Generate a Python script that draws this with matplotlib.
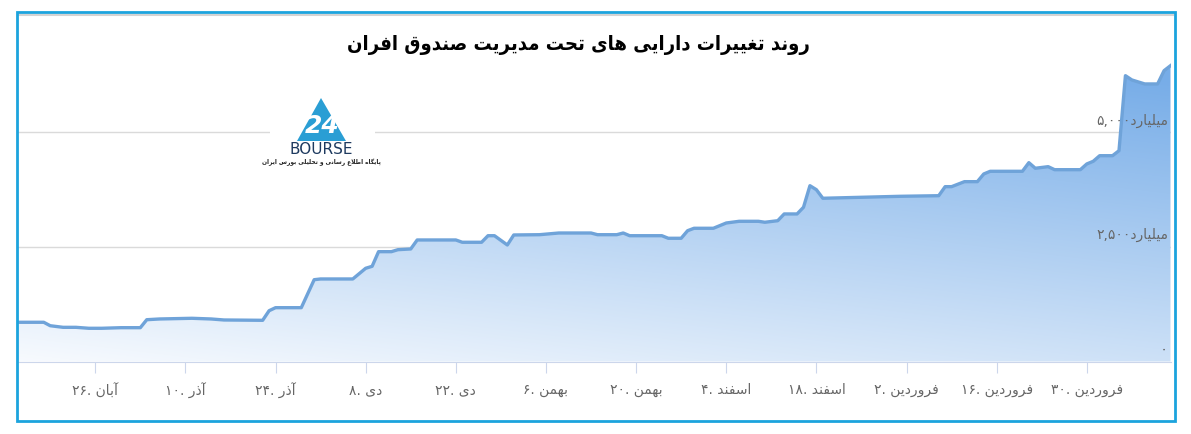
import numpy as np
import matplotlib
matplotlib.use('agg')
import matplotlib.pyplot as plt
from matplotlib.patches import Rectangle, Polygon
from matplotlib.lines import Line2D

W, H = 1191, 435

# ---- data (days counted from 26 Aban, values in billion rials) ----
days = [-12, -8, -7, -5, -3, -1, 1, 4, 7, 8, 10, 15, 18, 20, 26, 27, 28, 32,
        34, 35, 40, 42, 43, 44, 46, 47, 49, 50, 56, 57, 60, 61, 62, 64, 65,
        69, 72, 77, 78, 81, 82, 83, 88, 89, 91, 92, 93, 96, 98, 100, 103,
        104, 106, 107, 109, 110, 111, 112, 113, 125, 131, 132, 133, 135, 137,
        138, 139, 144, 145, 146, 148, 149, 153, 154, 155, 156, 158, 159, 160,
        161, 163, 165, 166, 167]
assets = [855, 855, 780, 745, 745, 724, 724, 737, 737, 911, 927, 942, 927,
          905, 898, 1107, 1173, 1173, 1783, 1799, 1799, 2032, 2075, 2394,
          2394, 2437, 2453, 2649, 2649, 2599, 2599, 2742, 2742, 2540, 2758,
          2764, 2801, 2801, 2764, 2764, 2801, 2742, 2742, 2686, 2686, 2851,
          2904, 2904, 3019, 3056, 3056, 3035, 3069, 3216, 3216, 3362, 3832,
          3745, 3558, 3601, 3614, 3811, 3811, 3920, 3920, 4088, 4146, 4146,
          4334, 4212, 4247, 4181, 4181, 4306, 4364, 4486, 4486, 4595, 6230,
          6137, 6050, 6050, 6339, 6448]

tick_days = [0, 14, 28, 42, 56, 70, 84, 98, 112, 126, 140, 154]
tick_months = ['آبان', 'آذر', 'آذر', 'دی', 'دی', 'بهمن', 'بهمن', 'اسفند',
               'اسفند', 'فروردین', 'فروردین', 'فروردین']
tick_dates = ['26', '10', '24', '8', '22', '6', '20', '4', '18', '2', '16', '30']
y_grid = [0, 2500, 5000]
y_labels = ['0', '2,500', '5,000']
title = 'روند تغییرات دارایی های تحت مدیریت صندوق افران'
unit = 'میلیارد'
logo_caption = 'پایگاه اطلاع رسانی و تحلیلی بورس ایران'

# ---- tiny arabic/persian shaper (matplotlib has no text shaping) ----
FORMS = {
    '\u0627': ('\uFE8D', '\uFE8E', None, None),
    '\u0622': ('\uFE81', '\uFE82', None, None),
    '\u0628': ('\uFE8F', '\uFE90', '\uFE91', '\uFE92'),
    '\u067E': ('\uFB56', '\uFB57', '\uFB58', '\uFB59'),
    '\u062A': ('\uFE95', '\uFE96', '\uFE97', '\uFE98'),
    '\u062D': ('\uFEA1', '\uFEA2', '\uFEA3', '\uFEA4'),
    '\u062F': ('\uFEA9', '\uFEAA', None, None),
    '\u0630': ('\uFEAB', '\uFEAC', None, None),
    '\u0631': ('\uFEAD', '\uFEAE', None, None),
    '\u0632': ('\uFEAF', '\uFEB0', None, None),
    '\u0633': ('\uFEB1', '\uFEB2', '\uFEB3', '\uFEB4'),
    '\u0635': ('\uFEB9', '\uFEBA', '\uFEBB', '\uFEBC'),
    '\u0637': ('\uFEC1', '\uFEC2', '\uFEC3', '\uFEC4'),
    '\u0639': ('\uFEC9', '\uFECA', '\uFECB', '\uFECC'),
    '\u063A': ('\uFECD', '\uFECE', '\uFECF', '\uFED0'),
    '\u0641': ('\uFED1', '\uFED2', '\uFED3', '\uFED4'),
    '\u0642': ('\uFED5', '\uFED6', '\uFED7', '\uFED8'),
    '\u0644': ('\uFEDD', '\uFEDE', '\uFEDF', '\uFEE0'),
    '\u0645': ('\uFEE1', '\uFEE2', '\uFEE3', '\uFEE4'),
    '\u0646': ('\uFEE5', '\uFEE6', '\uFEE7', '\uFEE8'),
    '\u0647': ('\uFEE9', '\uFEEA', '\uFEEB', '\uFEEC'),
    '\u0648': ('\uFEED', '\uFEEE', None, None),
    '\u06CC': ('\uFBFC', '\uFBFD', '\uFBFE', '\uFBFF'),
    '\u06AF': ('\uFB92', '\uFB93', '\uFB94', '\uFB95'),
}
LAM_ALEF = {'\u0627': ('\uFEFB', '\uFEFC'), '\u0622': ('\uFEF5', '\uFEF6')}


def dual(c):
    return c in FORMS and FORMS[c][2] is not None


def rtl(text):
    chars = list(text.replace('\u064A', '\u06CC'))
    res = []
    i = 0
    while i < len(chars):
        c = chars[i]
        if c not in FORMS:
            res.append(c)
            i += 1
            continue
        jp = i > 0 and dual(chars[i - 1])
        if c == '\u0644' and i + 1 < len(chars) and chars[i + 1] in LAM_ALEF:
            res.append(LAM_ALEF[chars[i + 1]][1 if jp else 0])
            i += 2
            continue
        jn = dual(c) and i + 1 < len(chars) and chars[i + 1] in FORMS
        f = FORMS[c]
        res.append(f[3] if (jp and jn) else f[1] if jp else f[2] if jn else f[0])
        i += 1
    return ''.join(res)[::-1]


def fa_digits(s):
    return s.translate(str.maketrans('0123456789', '۰۱۲۳۴۵۶۷۸۹'))


def P(x, y):
    return (x / W, 1 - y / H)


plt.rcParams['font.family'] = ['DejaVu Sans']
fig = plt.figure(figsize=(W / 100, H / 100), dpi=100)
fig.patch.set_facecolor('white')

x0, x1, ytop, ybot = 18, 1170.5, 62, 362.5
ax = fig.add_axes([x0 / W, 1 - ybot / H, (x1 - x0) / W, (ybot - ytop) / H])
ax.set_xlim(-12, 167)
ax.set_ylim(0, 6550)

for v in y_grid[1:]:
    ax.axhline(v, color='#dadada', lw=1, zorder=1)

# gradient area fill
fill = ax.fill_between(days, assets, 0, color='none', zorder=2)
gx, gy = np.meshgrid(np.linspace(0, 1, 400), np.linspace(1, 0, 200))
s = np.clip(0.72 * gy + 0.33 * gx, 0, 1)[..., None]
c0 = np.array([0.97, 0.982, 0.997])
c1 = np.array([0.47, 0.68, 0.91])
img = np.concatenate([c0 * (1 - s) + c1 * s, np.ones_like(s)], axis=2)
im = ax.imshow(img, extent=[-12, 167, 0, 6550], aspect='auto', zorder=2,
               interpolation='bilinear')
im.set_clip_path(fill.get_paths()[0], transform=ax.transData)

ax.plot(days, assets, color='#6fa3d9', lw=2.4, solid_joinstyle='round', zorder=3)

for sp in ['top', 'left', 'right']:
    ax.spines[sp].set_visible(False)
ax.spines['bottom'].set_color('#ccd6eb')
ax.set_yticks([])
ax.set_xticks(tick_days)
ax.set_xticklabels([fa_digits(d) + '. ' + rtl(m) for d, m in zip(tick_dates, tick_months)])
ax.tick_params(axis='x', length=8, color='#ccd6eb', labelcolor='#666666',
               labelsize=10, pad=7)

for v, lab in zip(y_grid, y_labels):
    txt = fa_digits(lab) + (rtl(unit) if v else '')
    ax.text(0.998, v + 120, txt, transform=ax.get_yaxis_transform(), ha='right',
            va='bottom', fontsize=10 if v else 11, color='#666666', zorder=4)

# title
fig.text(*P(578, 45), rtl(title), ha='center', va='center', fontsize=14.5,
         fontweight='bold', fontstretch='condensed', color='black')

# logo
fig.add_artist(Rectangle(P(270, 172), 105 / W, 77 / H, transform=fig.transFigure,
                         facecolor='white', edgecolor='none', zorder=5))
fig.add_artist(Polygon([P(321, 99), P(297, 142), P(346, 142)], closed=True,
                       transform=fig.transFigure, facecolor='#2a9ed4',
                       edgecolor='none', zorder=6))
fig.text(*P(322, 126), '24', ha='center', va='center', fontsize=18,
         fontweight='bold', style='italic', color='white', zorder=7)
fig.text(*P(321, 150), 'BOURSE', ha='center', va='center', fontsize=11,
         color='#1e3a5f', zorder=7)
fig.text(*P(321, 162), rtl(logo_caption), ha='center', va='center', fontsize=4.2,
         fontweight='bold', color='#222222', zorder=7)

# frame
fig.add_artist(Line2D([18 / W, 1173 / W], [1 - 16 / H, 1 - 16 / H], color='#d3d3d3',
                      lw=1.5, transform=fig.transFigure))
fig.add_artist(Rectangle(P(17, 421.5), 1157.5 / W, 408.5 / H, transform=fig.transFigure,
                         facecolor='none', edgecolor='#1ca3dd', lw=2.0, zorder=10))

fig.savefig('out.png', dpi=100)
